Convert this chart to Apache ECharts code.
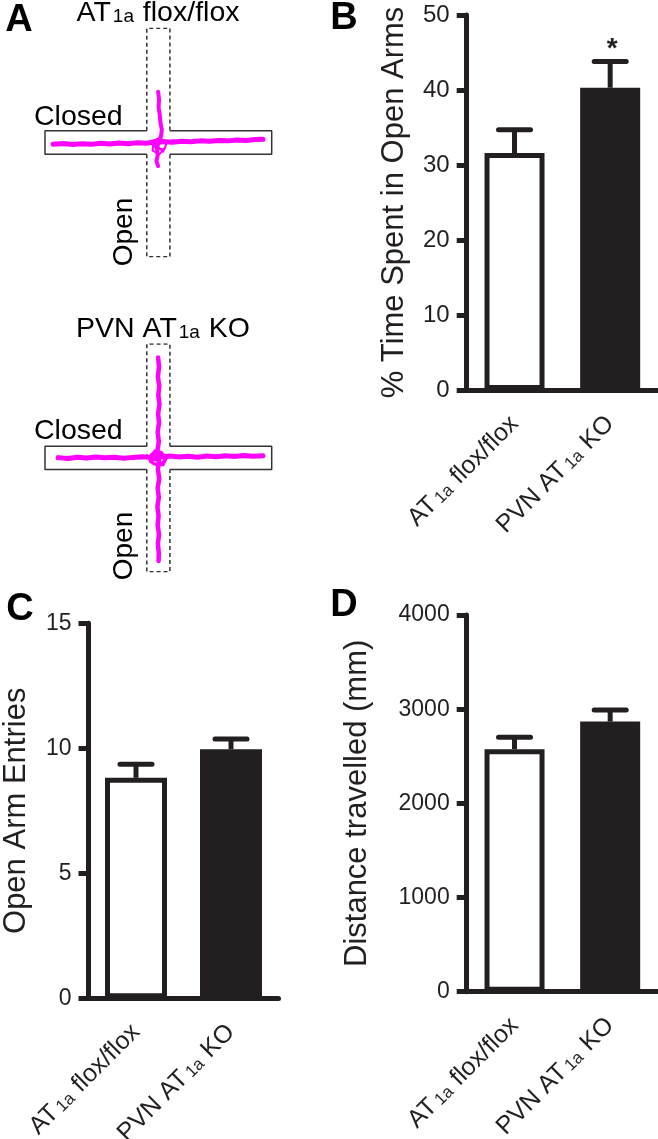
<!DOCTYPE html>
<html><head><meta charset="utf-8">
<script src="https://cdn.jsdelivr.net/npm/echarts@6/dist/echarts.min.js"></script>
<style>html,body{margin:0;padding:0;background:#fff}#c{width:658px;height:1139px}</style>
</head><body><div id="c"></div>
<script>
// ---------- data ----------
const categories = ['AT1a flox/flox', 'PVN AT1a KO'];

const timeOpenMean = [31.6, 40.3];
const timeOpenSem  = [3.1, 3.5];
const timeOpenSig  = ['', '*'];

const entriesMean = [8.82, 9.96];
const entriesSem  = [0.54, 0.41];
const entriesSig  = ['', ''];

const distanceMean = [2575, 2868];
const distanceSem  = [128, 124];
const distanceSig  = ['', ''];

// maze tracks (maze units, centre = 0,0; arms reach +/-49)
const floxClosedTrack = [[-45.5,-0.8],[-41,-0.4],[-37,-0.9],[-33,-0.5],[-29,-0.8],[-25,-0.3],[-21,-0.6],[-17,-0.2],[-13,-0.5],[-9,-0.1],[-5,-0.3],[-2,0.2],[2,0.4],[6,0.1],[10,0.5],[14,0.3],[18,0.7],[22,0.5],[26,0.9],[30,0.7],[34,1.1],[38,0.9],[42,1.3],[45.2,1.4]];
const floxOpenTrack   = [[-0.1,21.8],[0.3,18.5],[0.1,15],[0.6,12],[0.9,8.5],[1.5,5.5],[1.2,3],[0.2,0.5],[-0.6,-2.5],[-0.3,-5.5],[-0.8,-8],[-0.1,-10.1]];
const floxCentreTrack = [[-3,0.5],[-1,-2.5],[2.5,-3],[3.5,-0.5],[1,2],[-2,1],[-2.5,-3.5],[0.5,-5],[3,-2],[2,-4],[-1,-1],[4,0.5],[7,1]];

const koClosedTrack = [[-43.3,0.1],[-39,-0.3],[-35,0.3],[-31,-0.1],[-27,0.4],[-23,0],[-19,0.3],[-15,-0.2],[-11,0.2],[-7,0.5],[-3,0.1],[1,0.4],[5,0.8],[9,0.4],[13,0.7],[17,0.3],[21,0.8],[25,0.5],[29,0.9],[33,0.6],[37,1.0],[41,0.7],[45.2,0.9]];
const koOpenTrack   = [[-0.1,43.2],[0.3,39],[-0.2,35],[0.4,31],[0,27],[0.5,23],[-0.1,19],[0.3,15],[-0.3,11],[0.2,7],[-0.4,3],[0.3,-1],[-0.2,-5],[0.4,-9],[-0.3,-13],[0.2,-17],[-0.4,-21],[0.1,-25],[-0.3,-29],[0.3,-33],[-0.2,-37],[0.2,-41],[0.1,-44.4]];
const koCentreTrack = [[-5,1],[-2,-2.5],[2,-3],[3.5,0],[1,2.5],[-3,1.5],[-3.5,-1.5],[0,-3.5],[3,-1],[1.5,2],[-1.5,3],[-4,0],[-1,-1],[2,1]];

// maze geometry
const ARM = 49, HALF = 5;

// ---------- styling ----------
const FONT = "'Liberation Sans', Arial, Helvetica, sans-serif";
const INK = '#231f20';
const MAGENTA = '#ff00ff';

const chart = echarts.init(document.getElementById('c'), null, {renderer: 'canvas'});

function mazeOutlineSeries(idx) {
  const closedL = [[-HALF, HALF], [-ARM, HALF], [-ARM, -HALF], [-HALF, -HALF]];
  const closedR = [[HALF, HALF], [ARM, HALF], [ARM, -HALF], [HALF, -HALF]];
  const openT = [[-HALF, HALF], [-HALF, ARM], [HALF, ARM], [HALF, HALF]];
  const openB = [[-HALF, -HALF], [-HALF, -ARM], [HALF, -ARM], [HALF, -HALF]];
  const mk = (d, dashed) => ({
    type: 'line', xAxisIndex: idx, yAxisIndex: idx, data: d, symbol: 'none', silent: true,
    lineStyle: {color: '#333', width: 1.5, type: dashed ? [4, 3] : 'solid'}, z: 1
  });
  return [mk(closedL, false), mk(closedR, false), mk(openT, true), mk(openB, true)];
}
function trackSeries(idx, d, w) {
  return {type: 'line', xAxisIndex: idx, yAxisIndex: idx, data: d, symbol: 'none', silent: true,
    lineStyle: {color: MAGENTA, width: w, join: 'round', cap: 'round'}, z: 3};
}
function barSeries(idx, mean, bw) {
  return {
    type: 'bar', xAxisIndex: idx, yAxisIndex: idx, barWidth: bw, silent: true,
    data: mean.map((v, i) => ({
      value: v,
      itemStyle: {color: i === 0 ? '#ffffff' : INK, borderColor: INK, borderWidth: 5}
    })),
    z: 2
  };
}
function errSeries(idx, mean, sem, sig) {
  return {
    type: 'custom', xAxisIndex: idx, yAxisIndex: idx, silent: true, z: 5,
    data: mean.map((m, i) => [i, m, m + sem[i]]),
    renderItem: function (params, api) {
      const i = api.value(0);
      const base = api.coord([i, api.value(1)]);
      const top = api.coord([i, api.value(2)]);
      const children = [
        {type: 'line', shape: {x1: top[0], y1: base[1], x2: top[0], y2: top[1]},
          style: {stroke: INK, lineWidth: 5}},
        {type: 'line', shape: {x1: top[0] - 16, y1: top[1], x2: top[0] + 16, y2: top[1]},
          style: {stroke: INK, lineWidth: 5, lineCap: 'round'}}
      ];
      const s = sig[params.dataIndex];
      if (s) {
        children.push({type: 'text', x: top[0] + 2, y: top[1] - 12,
          style: {text: s, font: 'bold 28px ' + FONT, fill: INK, textAlign: 'center', textVerticalAlign: 'middle'}});
      }
      return {type: 'group', children: children};
    }
  };
}
function catLabel(v) {
  const p = v.split('1a');
  return '{n|' + p[0] + '}{s|1a}{n|' + p[1] + '}';
}
function catAxis(idx) {
  return {
    type: 'category', gridIndex: idx, data: categories,
    axisLine: {lineStyle: {color: INK, width: 5}},
    axisTick: {alignWithLabel: true, length: 10, lineStyle: {color: INK, width: 5}},
    axisLabel: {
      rotate: 45, interval: 0, margin: 30, formatter: catLabel, color: INK,
      rich: {
        n: {fontSize: 25, fontFamily: FONT, color: INK},
        s: {fontSize: 17, fontFamily: FONT, color: INK, verticalAlign: 'bottom', padding: [0, 1, 1, 3]}
      }
    },
    splitLine: {show: false}
  };
}
function valAxis(idx, max, interval, name, gap, fs) {
  return {
    type: 'value', gridIndex: idx, min: 0, max: max, interval: interval,
    name: name, nameLocation: 'middle', nameRotate: 90, nameGap: gap,
    nameTextStyle: {fontSize: 31, fontFamily: FONT, color: INK},
    axisLine: {show: true, lineStyle: {color: INK, width: 5}},
    axisTick: {show: true, length: 10, lineStyle: {color: INK, width: 5}},
    axisLabel: {fontSize: fs, fontFamily: FONT, color: INK, margin: 17, formatter: (v) => String(v)},
    splitLine: {show: false}
  };
}
function mazeAxis(idx) {
  return {type: 'value', gridIndex: idx, min: -ARM, max: ARM, show: false};
}

const titleRich = {
  n: {fontSize: 28.5, fontFamily: FONT, fill: '#000'},
  s: {fontSize: 19, fontFamily: FONT, fill: '#000', verticalAlign: 'bottom', padding: [0, 1, 1, 2]}
};

const G = {outerBoundsMode: 'none', containLabel: false};

const option = {
  animation: false,
  backgroundColor: '#ffffff',
  grid: [
    Object.assign({left: 45, top: 28.3, width: 226.7, height: 228.4}, G),
    Object.assign({left: 45, top: 344, width: 226.7, height: 227.7}, G),
    Object.assign({left: 466.7, top: 15, width: 191.3, height: 375}, G),
    Object.assign({left: 88.5, top: 623.3, width: 190, height: 375}, G),
    Object.assign({left: 466.7, top: 615, width: 191.3, height: 376.7}, G)
  ],
  xAxis: [mazeAxis(0), mazeAxis(1), catAxis(2), catAxis(3), catAxis(4)],
  yAxis: [
    mazeAxis(0), mazeAxis(1),
    valAxis(2, 50, 10, '% Time Spent in Open Arms', 57, 24),
    valAxis(3, 15, 5, 'Open Arm Entries', 57, 23),
    valAxis(4, 4000, 1000, 'Distance travelled (mm)', 94, 23)
  ],
  series: [
    ...mazeOutlineSeries(0),
    ...mazeOutlineSeries(1),
    trackSeries(0, floxClosedTrack, 5),
    trackSeries(0, floxOpenTrack, 4),
    trackSeries(0, floxCentreTrack, 2),
    trackSeries(1, koClosedTrack, 5),
    trackSeries(1, koOpenTrack, 4.5),
    trackSeries(1, koCentreTrack, 3),
    barSeries(2, timeOpenMean, 60),
    errSeries(2, timeOpenMean, timeOpenSem, timeOpenSig),
    barSeries(3, entriesMean, 62),
    errSeries(3, entriesMean, entriesSem, entriesSig),
    barSeries(4, distanceMean, 60),
    errSeries(4, distanceMean, distanceSem, distanceSig)
  ],
  graphic: [
    {type: 'text', x: 19, y: 21, style: {text: 'A', font: 'bold 38px ' + FONT, fill: '#000', textAlign: 'center', textVerticalAlign: 'middle'}},
    {type: 'text', x: 344, y: 19, style: {text: 'B', font: 'bold 38px ' + FONT, fill: '#000', textAlign: 'center', textVerticalAlign: 'middle'}},
    {type: 'text', x: 20, y: 610, style: {text: 'C', font: 'bold 38px ' + FONT, fill: '#000', textAlign: 'center', textVerticalAlign: 'middle'}},
    {type: 'text', x: 344, y: 606, style: {text: 'D', font: 'bold 38px ' + FONT, fill: '#000', textAlign: 'center', textVerticalAlign: 'middle'}},
    {type: 'text', x: 158, y: 13, style: {text: '{n|AT}{s|1a}{n| flox/flox}', textAlign: 'center', textVerticalAlign: 'middle', rich: titleRich}},
    {type: 'text', x: 163, y: 329, style: {text: '{n|PVN AT}{s|1a}{n| KO}', textAlign: 'center', textVerticalAlign: 'middle', rich: titleRich}},
    {type: 'text', x: 34, y: 117, style: {text: 'Closed', font: '28.5px ' + FONT, fill: '#000', textAlign: 'left', textVerticalAlign: 'middle'}},
    {type: 'text', x: 34, y: 431, style: {text: 'Closed', font: '28.5px ' + FONT, fill: '#000', textAlign: 'left', textVerticalAlign: 'middle'}},
    {type: 'text', x: 124, y: 232, rotation: Math.PI / 2, style: {text: 'Open', font: '28px ' + FONT, fill: '#000', textAlign: 'center', textVerticalAlign: 'middle'}},
    {type: 'text', x: 124, y: 546, rotation: Math.PI / 2, style: {text: 'Open', font: '28px ' + FONT, fill: '#000', textAlign: 'center', textVerticalAlign: 'middle'}}
  ]
};
chart.setOption(option);
</script>
</body></html>
